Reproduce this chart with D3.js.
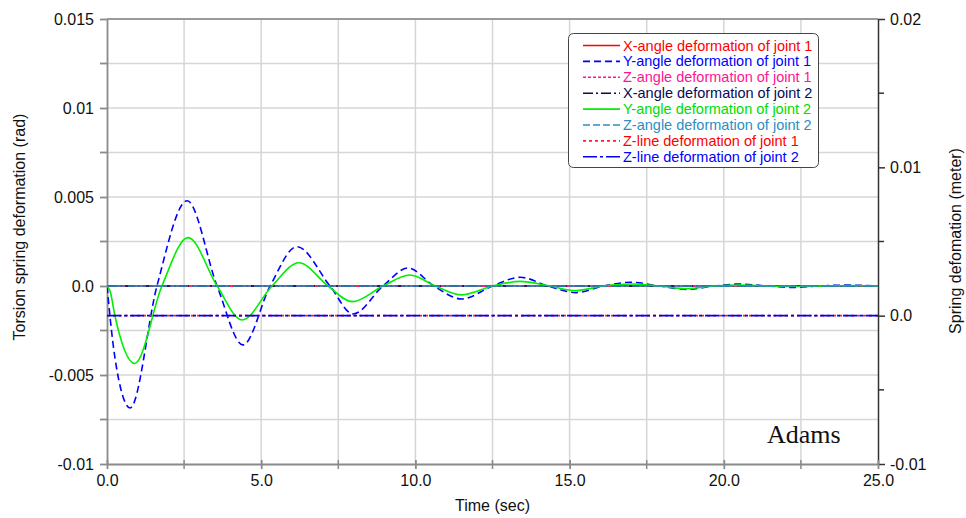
<!DOCTYPE html>
<html>
<head>
<meta charset="utf-8">
<script src="https://cdn.jsdelivr.net/npm/d3@7"></script>
<style>
  html, body { margin: 0; padding: 0; background: #fff; }
  svg { display: block; font-family: Arial, "Liberation Sans", sans-serif; }
</style>
</head>
<body>
<svg id="chart" width="966" height="518"></svg>
<script>
// Time samples (sec) and rotational deformation (rad) of the oscillating springs
const timeY1 = [0, 0.2, 0.45, 0.75, 1.62, 2.6, 3.57, 4.41, 5.29, 6.16, 7.23, 7.98, 8.95, 9.76, 10.6, 11.5, 12.5, 13.4, 14.3, 15.2, 16.1, 17.0, 17.9, 18.8, 19.7, 20.5, 21.4, 22.2, 23.1, 24.0, 25.0];
const yAngleJoint1 = [0, -0.0033, -0.0058, -0.00685, 0, 0.00479, 0, -0.00331, 0, 0.00221, 0, -0.00157, 0, 0.00101, 0, -0.00073, 0, 0.00049, 0, -0.00037, 0, 0.00021, 0, -0.00019, 0, 0.00011, 0, -0.00008, 0, 0.00005, 0];

const timeY2 = [0, 0.1, 0.26, 0.9, 1.78, 2.63, 3.57, 4.38, 5.35, 6.22, 7.17, 7.95, 8.95, 9.82, 10.65, 11.5, 12.5, 13.4, 14.35, 15.2, 16.1, 17.0, 17.9, 18.8, 19.7, 20.5, 21.4, 22.3, 23.2, 24.1, 25.0];
const yAngleJoint2 = [0, -0.0003, -0.0017, -0.00435, 0, 0.00272, 0, -0.00191, 0, 0.00131, 0, -0.00088, 0, 0.00062, 0, -0.00050, 0, 0.00026, 0, -0.00026, 0, 0.00011, 0, -0.00015, 0, 0.00005, 0, -0.00003, 0, 0.00003, 0];

// Series that stay at rest over the whole run
const timeFlat = [0, 25];
const xAngleJoint1 = [0, 0];
const zAngleJoint1 = [0, 0];
const xAngleJoint2 = [0, 0];
const zAngleJoint2 = [0, 0];
// Linear spring deformation (meter), right axis
const zLineJoint1 = [0, 0];
const zLineJoint2 = [0, 0];

// Axis ticks
const timeTicks = [0, 5, 10, 15, 20, 25];
const timeMinor = [2.5, 7.5, 12.5, 17.5, 22.5];
const radTicks = [-0.01, -0.005, 0, 0.005, 0.01, 0.015];
const radTickLabels = ["-0.01", "-0.005", "0.0", "0.005", "0.01", "0.015"];
const radMinor = [-0.0075, -0.0025, 0.0025, 0.0075, 0.0125];
const meterTicks = [-0.01, 0, 0.01, 0.02];
const meterTickLabels = ["-0.01", "0.0", "0.01", "0.02"];
const meterMinor = [-0.005, 0.005, 0.015];

const legendLabels = [
  "X-angle deformation of joint 1",
  "Y-angle deformation of joint 1",
  "Z-angle deformation of joint 1",
  "X-angle deformation of joint 2",
  "Y-angle deformation of joint 2",
  "Z-angle deformation of joint 2",
  "Z-line deformation of joint 1",
  "Z-line deformation of joint 2"
];

const svg = d3.select("#chart");
const L = 107, R = 878, T = 19, B = 464;

const x = d3.scaleLinear().domain([0, 25]).range([L, R]);
const yL = d3.scaleLinear().domain([-0.01, 0.015]).range([B, T]);
const yR = d3.scaleLinear().domain([-0.01, 0.02]).range([B, T]);

// grid
const grid = svg.append("g");
grid.selectAll("line.v").data(timeMinor.concat([5, 10, 15, 20])).join("line")
  .attr("x1", d => x(d)).attr("x2", d => x(d)).attr("y1", T).attr("y2", B)
  .attr("stroke", "#d6d6d6").attr("stroke-width", 1.5);
grid.selectAll("line.h").data(radMinor.concat([-0.005, 0, 0.005, 0.01])).join("line")
  .attr("x1", L).attr("x2", R).attr("y1", d => yL(d)).attr("y2", d => yL(d))
  .attr("stroke", "#d6d6d6").attr("stroke-width", 1.5);

// frame lines
svg.append("line").attr("x1", L).attr("x2", R).attr("y1", T).attr("y2", T)
  .attr("stroke", "#9a9a9a").attr("stroke-width", 2);

// axes
function styleAxis(g, color, width) {
  g.select(".domain").attr("stroke", color).attr("stroke-width", width);
  g.selectAll(".tick line").attr("stroke", color).attr("stroke-width", width);
  g.selectAll(".tick text").attr("fill", "#111").style("font-size", "16px")
    .style("font-family", "Arial, 'Liberation Sans', sans-serif");
}

const axisLeft = d3.axisLeft(yL).tickValues(radTicks)
  .tickFormat((d, i) => radTickLabels[i]).tickSize(7).tickSizeOuter(0).tickPadding(6);
const gL = svg.append("g").attr("transform", `translate(${L},0)`).call(axisLeft);
styleAxis(gL, "#8a8a8a", 1.8);
gL.selectAll("line.minor").data(radMinor).join("line").attr("class", "minor")
  .attr("x1", -7).attr("x2", 0).attr("y1", d => yL(d)).attr("y2", d => yL(d))
  .attr("stroke", "#8a8a8a").attr("stroke-width", 1.8);

const axisRight = d3.axisRight(yR).tickValues(meterTicks)
  .tickFormat((d, i) => meterTickLabels[i]).tickSize(7).tickSizeOuter(0).tickPadding(5);
const gR = svg.append("g").attr("transform", `translate(${R},0)`).call(axisRight);
styleAxis(gR, "#333", 1.5);
gR.selectAll("line.minor").data(meterMinor).join("line").attr("class", "minor")
  .attr("x1", 0).attr("x2", 6).attr("y1", d => yR(d)).attr("y2", d => yR(d))
  .attr("stroke", "#333").attr("stroke-width", 1.5);

const axisBottom = d3.axisBottom(x).tickValues(timeTicks)
  .tickFormat(d3.format(".1f")).tickSize(5).tickSizeOuter(0).tickPadding(6);
const gB = svg.append("g").attr("transform", `translate(0,${B})`).call(axisBottom);
styleAxis(gB, "#8a8a8a", 1.8);
gB.selectAll(".tick line").attr("y1", -4);
gB.selectAll("line.minor").data(timeMinor).join("line").attr("class", "minor")
  .attr("x1", d => x(d)).attr("x2", d => x(d)).attr("y1", -4).attr("y2", 5)
  .attr("stroke", "#8a8a8a").attr("stroke-width", 1.5);

// axis titles
svg.append("text").attr("x", x(12.5)).attr("y", 511).attr("text-anchor", "middle")
  .style("font-size", "16px").attr("fill", "#111").text("Time (sec)");
svg.append("text").attr("transform", "translate(25,227) rotate(-90)").attr("text-anchor", "middle")
  .style("font-size", "16px").attr("fill", "#111").text("Torsion spring deformation (rad)");
svg.append("text").attr("transform", "translate(961,241) rotate(-90)").attr("text-anchor", "middle")
  .style("font-size", "16px").attr("fill", "#111").text("Spring defomation (meter)");

// series
const series = [
  { t: timeFlat, v: xAngleJoint1, axis: yL, color: "#ff0000", dash: null },
  { t: timeY1, v: yAngleJoint1, axis: yL, color: "#0000ff", dash: "7,4" },
  { t: timeFlat, v: zAngleJoint1, axis: yL, color: "#ff1493", dash: "3,2" },
  { t: timeFlat, v: xAngleJoint2, axis: yL, color: "#0a0a55", dash: "10,3,2,3" },
  { t: timeY2, v: yAngleJoint2, axis: yL, color: "#00ee00", dash: null },
  { t: timeFlat, v: zAngleJoint2, axis: yL, color: "#2a8fc4", dash: "7,3" },
  { t: timeFlat, v: zLineJoint1, axis: yR, color: "#ff2020", dash: "3,3" },
  { t: timeFlat, v: zLineJoint2, axis: yR, color: "#0000ff", dash: "14,3,3,3" }
];
const textColors = ["#ff0000", "#0000ff", "#ff1493", "#0a0a55", "#00dd00", "#2a8fc4", "#ff0000", "#0000ff"];

svg.append("clipPath").attr("id", "plot").append("rect")
  .attr("x", L).attr("y", T - 2).attr("width", R - L).attr("height", B - T + 4);
const plot = svg.append("g").attr("clip-path", "url(#plot)");

// flat lines on the zero level are drawn with a longer dash so the teal trace dominates
const plotDash = [null, "7,4", "3,2", "10,3,2,3", null, "18,3", "3,3", "14,3,3,3"];
series.forEach((s, i) => {
  const pts = s.t.map((t, j) => [t, s.v[j]]);
  const line = d3.line().x(d => x(d[0])).y(d => s.axis(d[1])).curve(d3.curveMonotoneX);
  plot.append("path").datum(pts).attr("d", line)
    .attr("fill", "none").attr("stroke", s.color).attr("stroke-width", 1.6)
    .attr("stroke-dasharray", plotDash[i]);
});

// legend
const lg = svg.append("g");
lg.append("rect").attr("x", 568.5).attr("y", 33.5).attr("width", 250).attr("height", 134)
  .attr("rx", 5).attr("fill", "#fff").attr("stroke", "#444").attr("stroke-width", 1);
legendLabels.forEach((lab, i) => {
  const yy = 45.5 + i * 15.9;
  lg.append("line").attr("x1", 583).attr("x2", 620).attr("y1", yy).attr("y2", yy)
    .attr("stroke", series[i].color).attr("stroke-width", 1.6)
    .attr("stroke-dasharray", series[i].dash);
  lg.append("text").attr("x", 623).attr("y", yy + 5).style("font-size", "14.5px")
    .attr("fill", textColors[i]).text(lab);
});

// software label
svg.append("text").attr("x", 767).attr("y", 443)
  .style("font-family", "'Liberation Serif', 'Times New Roman', serif").style("font-size", "26px")
  .attr("fill", "#111").text("Adams");
</script>
</body>
</html>
